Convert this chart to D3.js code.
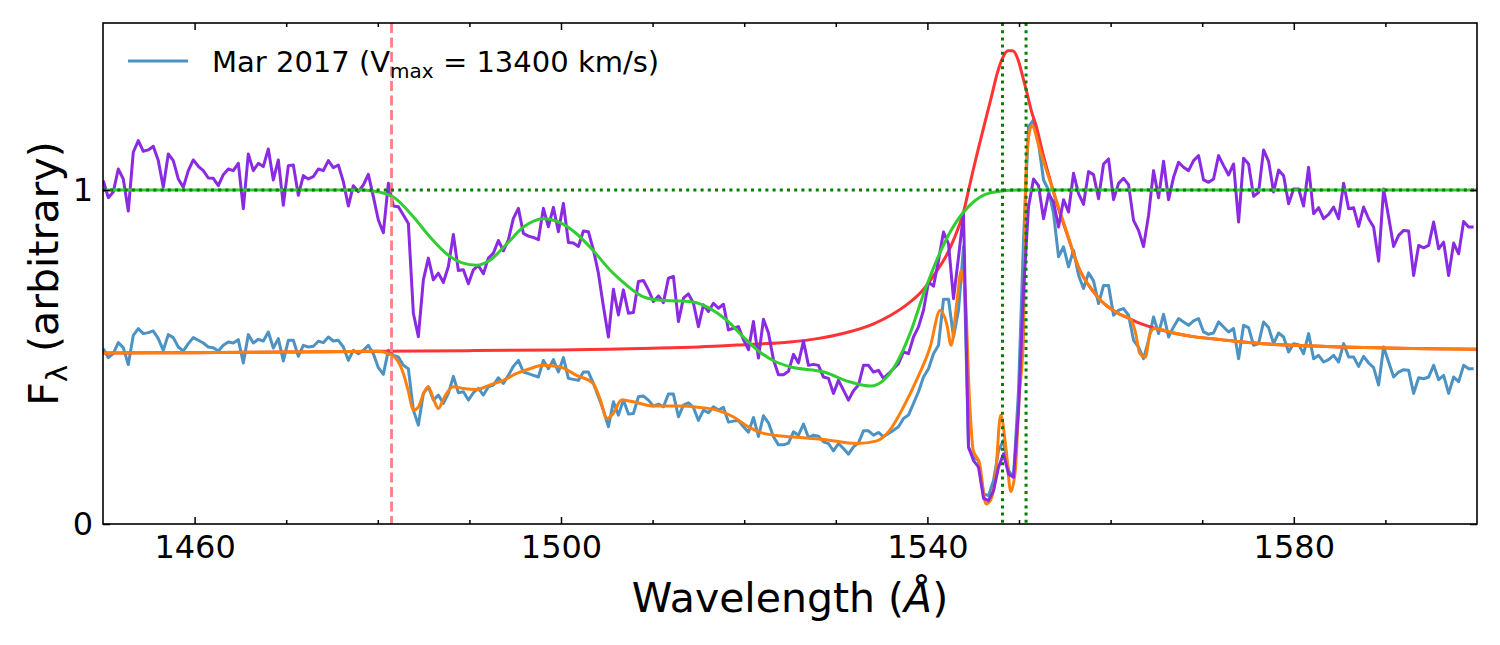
<!DOCTYPE html>
<html lang="en">
<head>
<meta charset="UTF-8">
<title>C IV profile, Mar 2017</title>
<script src="https://d3js.org/d3.v7.min.js"></script>
<style>
  body { margin: 0; background: #fff; }
  svg text { font-family: "DejaVu Sans", sans-serif; fill: #000; }
</style>
</head>
<body>
<svg width="1500" height="645"></svg>
<script>
// spectrum sampling (Angstrom)
const waveStart = 1450.03, waveStep = 0.546;

// observed flux (blue)
const fluxObs = [
  0.525, 0.498, 0.510, 0.543, 0.528, 0.477, 0.565, 0.585, 0.570, 0.573,
  0.578, 0.555, 0.520, 0.567, 0.558, 0.530, 0.518, 0.540, 0.558, 0.550,
  0.542, 0.530, 0.528, 0.518, 0.535, 0.545, 0.542, 0.552, 0.482, 0.567,
  0.542, 0.553, 0.548, 0.575, 0.527, 0.555, 0.488, 0.550, 0.550, 0.502,
  0.535, 0.530, 0.532, 0.547, 0.543, 0.560,
  0.548, 0.550, 0.530, 0.490, 0.520, 0.510, 0.520, 0.535, 0.510, 0.468,
  0.448, 0.520, 0.505, 0.500, 0.475, 0.465, 0.341, 0.296, 0.391, 0.411,
  0.371, 0.386, 0.361, 0.391, 0.442, 0.393, 0.396, 0.371, 0.393, 0.406,
  0.386, 0.411, 0.416, 0.438, 0.421, 0.445, 0.472, 0.490, 0.455, 0.450,
  0.445, 0.440, 0.490, 0.465, 0.492, 0.455,
  0.498, 0.436, 0.433, 0.430, 0.455, 0.455, 0.421, 0.381, 0.341, 0.291,
  0.366, 0.326, 0.371, 0.329, 0.331, 0.381, 0.383, 0.371, 0.353, 0.359,
  0.351, 0.389, 0.389, 0.321, 0.356, 0.363, 0.349, 0.310, 0.341, 0.333,
  0.351, 0.341, 0.349, 0.305, 0.308, 0.310, 0.291, 0.275, 0.319, 0.262,
  0.324, 0.303, 0.261, 0.237, 0.237, 0.242,
  0.276, 0.266, 0.299, 0.259, 0.266, 0.263, 0.246, 0.241, 0.219, 0.241,
  0.226, 0.209, 0.231, 0.243, 0.279, 0.279, 0.266, 0.274, 0.261, 0.271,
  0.281, 0.291, 0.316, 0.326, 0.361, 0.396, 0.440, 0.465, 0.510, 0.535,
  0.673, 0.673, 0.560, 0.640,
  0.830, 0.230, 0.200, 0.190, 0.090, 0.085, 0.130, 0.220, 0.250, 0.160,
  0.140, 0.400, 0.850, 1.190, 1.210, 1.140,
  1.030, 1.000, 0.930, 0.800, 0.830, 0.770, 0.820, 0.745, 0.705, 0.752,
  0.728, 0.660, 0.714, 0.714, 0.625, 0.640, 0.645, 0.625, 0.550, 0.530,
  0.495, 0.550, 0.620, 0.570, 0.628, 0.560, 0.590, 0.615, 0.605, 0.595,
  0.608, 0.615, 0.575, 0.568, 0.572, 0.605, 0.590, 0.575, 0.585, 0.495,
  0.595, 0.588, 0.535,
  0.540, 0.605, 0.588, 0.540, 0.572, 0.560, 0.515, 0.540, 0.537, 0.510,
  0.570, 0.495, 0.505, 0.485, 0.492, 0.505, 0.485, 0.540, 0.500, 0.500,
  0.472, 0.502, 0.482, 0.468, 0.416, 0.530, 0.485, 0.440, 0.455, 0.462,
  0.460, 0.391, 0.438, 0.435, 0.440, 0.475, 0.432, 0.445, 0.391, 0.440,
  0.426, 0.475, 0.465, 0.465
];

// flux divided by continuum + emission model (purple)
const fluxNorm = [
  1.028, 0.977, 0.994, 1.063, 1.033, 0.937, 1.113, 1.148, 1.116, 1.120,
  1.131, 1.088, 1.008, 1.108, 1.088, 1.033, 1.008, 1.058, 1.090, 1.071,
  1.058, 1.036, 1.035, 1.013, 1.046, 1.063, 1.058, 1.080, 0.944, 1.108,
  1.058, 1.080, 1.070, 1.123, 1.030, 1.090, 0.954, 1.073, 1.075, 0.984,
  1.043, 1.033, 1.040, 1.063, 1.058, 1.088,
  1.067, 1.075, 1.025, 0.952, 1.013, 0.995, 1.015, 1.047, 0.980, 0.910,
  0.872, 1.020, 0.952, 0.950, 0.925, 0.900, 0.631, 0.561, 0.731, 0.796,
  0.731, 0.751, 0.723, 0.771, 0.867, 0.759, 0.761, 0.719, 0.761, 0.774,
  0.749, 0.796, 0.811, 0.849, 0.818, 0.851, 0.915, 0.945, 0.870, 0.862,
  0.858, 0.851, 0.945, 0.890, 0.948, 0.875,
  0.960, 0.843, 0.841, 0.831, 0.877, 0.875, 0.821, 0.751, 0.651, 0.560,
  0.703, 0.626, 0.701, 0.631, 0.633, 0.726, 0.729, 0.701, 0.666, 0.683,
  0.663, 0.736, 0.741, 0.606, 0.676, 0.689, 0.661, 0.591, 0.656, 0.636,
  0.661, 0.646, 0.658, 0.581, 0.586, 0.591, 0.552, 0.522, 0.606, 0.497,
  0.613, 0.572, 0.492, 0.447, 0.447, 0.457,
  0.508, 0.482, 0.548, 0.475, 0.478, 0.475, 0.440, 0.436, 0.391, 0.430,
  0.401, 0.371, 0.399, 0.416, 0.475, 0.475, 0.455, 0.460, 0.436, 0.450,
  0.465, 0.480, 0.515, 0.510, 0.560, 0.590, 0.640, 0.724, 0.712, 0.789,
  0.874, 0.839, 0.675, 0.799,
  0.930, 0.230, 0.190, 0.170, 0.077, 0.070, 0.100, 0.170, 0.210, 0.150,
  0.140, 0.340, 0.700, 0.950, 1.033, 1.013,
  0.914, 0.989, 0.964, 0.889, 0.971, 0.934, 1.050, 0.989, 0.957, 1.055,
  1.046, 0.974, 1.078, 1.093, 0.971, 1.020, 1.035, 1.016, 0.909, 0.879,
  0.831, 0.924, 1.058, 0.977, 1.086, 0.971, 1.038, 1.083, 1.068, 1.058,
  1.088, 1.103, 1.030, 1.023, 1.033, 1.103, 1.073, 1.045, 1.078, 0.904,
  1.095, 1.078, 0.981,
  0.993, 1.120, 1.086, 0.994, 1.060, 1.043, 0.959, 1.003, 1.003, 0.952,
  1.068, 0.929, 0.947, 0.914, 0.927, 0.949, 0.914, 1.020, 0.944, 0.947,
  0.891, 0.949, 0.914, 0.889, 0.787, 1.003, 0.919, 0.831, 0.864, 0.879,
  0.877, 0.744, 0.834, 0.827, 0.834, 0.904, 0.824, 0.844, 0.744, 0.841,
  0.809, 0.906, 0.889, 0.889
];

// continuum + emission model (red), [wavelength, flux]
const emissionModel = [
  [1450, 0.512], [1460, 0.513], [1470, 0.515], [1480, 0.517], [1490, 0.519],
  [1500, 0.521], [1505, 0.523], [1510, 0.526], [1515, 0.530], [1520, 0.537],
  [1525, 0.545], [1528, 0.555], [1531, 0.572], [1534, 0.598], [1536, 0.625],
  [1538, 0.662], [1539.5, 0.700], [1541, 0.757], [1542, 0.800], [1543, 0.860],
  [1544, 0.940], [1544.5, 1.000], [1545, 1.060], [1546, 1.172], [1547, 1.280],
  [1547.6, 1.347], [1548.2, 1.395], [1548.8, 1.417], [1549.3, 1.417], [1549.9, 1.390],
  [1550.4, 1.340], [1550.8, 1.298], [1551.4, 1.232], [1551.9, 1.190], [1552.6, 1.110],
  [1553.4, 1.030], [1554.3, 0.945], [1555.2, 0.872], [1556.6, 0.762], [1558, 0.700],
  [1559, 0.667], [1560, 0.645], [1561, 0.628], [1562, 0.616], [1563, 0.603],
  [1564, 0.593], [1565, 0.585], [1567, 0.571], [1569, 0.561], [1572, 0.552],
  [1576, 0.541], [1580, 0.535], [1585, 0.530], [1590, 0.527], [1595, 0.525],
  [1600, 0.523]
];

// absorption model, normalised (green)
const absorptionModel = [
  [1450, 1.000], [1478, 1.000], [1479.5, 0.997], [1481.7, 0.979], [1483.9, 0.919],
  [1485.7, 0.859], [1487.5, 0.809], [1489.3, 0.781], [1490.8, 0.775], [1492.2, 0.789],
  [1494.1, 0.839], [1495.9, 0.889], [1498.1, 0.914], [1499.9, 0.902], [1501.7, 0.869],
  [1503.5, 0.819], [1505.4, 0.759], [1507.2, 0.714], [1509.0, 0.680], [1510.8, 0.670],
  [1512.6, 0.668], [1514.4, 0.665], [1516.3, 0.645], [1518.1, 0.610], [1519.9, 0.560],
  [1521.7, 0.515], [1523.5, 0.485], [1525.0, 0.471], [1528.7, 0.455], [1531.6, 0.425],
  [1533.8, 0.413], [1535.2, 0.430], [1536.6, 0.480], [1538.1, 0.570], [1539.6, 0.690],
  [1541.0, 0.789], [1542.5, 0.875], [1544.3, 0.945], [1546.1, 0.984], [1547.9, 0.996],
  [1550, 1.000], [1600, 1.000]
];

// full model fit (orange)
const fullModel = [
  [1450, 0.512], [1470, 0.515], [1480, 0.517], [1481.3, 0.508], [1482.0, 0.495],
  [1482.8, 0.450], [1483.3, 0.401], [1483.9, 0.341], [1484.4, 0.349], [1485.0, 0.391],
  [1485.5, 0.411], [1486.1, 0.373], [1486.6, 0.346], [1487.3, 0.381], [1488.2, 0.411],
  [1489.3, 0.406], [1490.8, 0.403], [1492.2, 0.416], [1493.7, 0.430], [1495.1, 0.450],
  [1496.6, 0.465], [1498.1, 0.475], [1499.9, 0.470], [1501.7, 0.445], [1503.5, 0.421],
  [1504.3, 0.371], [1505.0, 0.316], [1505.7, 0.331], [1506.6, 0.371], [1507.9, 0.366],
  [1510.1, 0.353], [1512.6, 0.353], [1515.2, 0.349], [1517.0, 0.341], [1518.8, 0.321],
  [1520.5, 0.290], [1522, 0.272], [1523.5, 0.265], [1525, 0.261], [1528.7, 0.253],
  [1532.3, 0.241], [1534.5, 0.249], [1535.9, 0.281], [1537.4, 0.351], [1538.8, 0.430],
  [1540.3, 0.530], [1541.4, 0.640], [1542.1, 0.600], [1542.6, 0.535], [1543.2, 0.660],
  [1543.7, 0.759], [1544.1, 0.700], [1544.6, 0.371], [1545.0, 0.221], [1545.7, 0.181],
  [1546.4, 0.060], [1546.9, 0.072], [1547.4, 0.132], [1548.0, 0.326], [1548.6, 0.221],
  [1549.1, 0.097], [1549.6, 0.161], [1550.0, 0.371], [1550.5, 0.570], [1550.7, 1.000],
  [1551.0, 1.148], [1551.4, 1.193], [1552.3, 1.118], [1553.4, 1.025], [1555.2, 0.875],
  [1556.6, 0.762], [1558, 0.700], [1559, 0.667], [1560, 0.645], [1561, 0.628],
  [1562.2, 0.612], [1562.7, 0.575], [1563.2, 0.510], [1563.8, 0.500], [1564.3, 0.570],
  [1564.8, 0.585], [1567, 0.571], [1569, 0.561], [1572, 0.552], [1576, 0.541],
  [1580, 0.535], [1585, 0.530], [1590, 0.527], [1595, 0.525], [1600, 0.523]
];

const vmaxLine = 1481.5;            // blue edge for Vmax = 13400 km/s
const civLines = [1548.2, 1550.77];  // C IV doublet
const xMajor = [1460, 1500, 1540, 1580];
const xMinor = [1470, 1480, 1490, 1510, 1520, 1530, 1550, 1560, 1570, 1590];
const yMajor = [0, 1];

const margin = { top: 23, right: 23, bottom: 121, left: 103 },
    width = 1500 - margin.left - margin.right,
    height = 645 - margin.top - margin.bottom;

const svg = d3.select("svg")
    .append("g")
    .attr("transform", `translate(${margin.left},${margin.top})`);

const x = d3.scaleLinear().domain([1450, 1600]).range([0, width]);
const y = d3.scaleLinear().domain([0, 1.5]).range([height, 0]);

svg.append("clipPath").attr("id", "plot-clip")
    .append("rect").attr("width", width).attr("height", height);

const plot = svg.append("g").attr("clip-path", "url(#plot-clip)");

const spectrum = (vals) => vals.map((v, i) => [waveStart + i * waveStep, v]);
const lineStraight = d3.line().x(d => x(d[0])).y(d => y(d[1]));
const lineSmooth = d3.line().x(d => x(d[0])).y(d => y(d[1])).curve(d3.curveMonotoneX);

function drawPath(data, gen, color, w) {
    plot.append("path")
        .datum(data)
        .attr("fill", "none")
        .attr("stroke", color)
        .attr("stroke-width", w)
        .attr("stroke-linejoin", "round")
        .attr("d", gen);
}

drawPath(spectrum(fluxObs), lineStraight, "#4c92c3", 3);
drawPath(emissionModel, lineSmooth, "#ff3333", 3);
drawPath(fullModel, lineSmooth, "#ff7f0e", 3);
drawPath(spectrum(fluxNorm), lineStraight, "#8a2be2", 3);
drawPath(absorptionModel, lineSmooth, "#32cd32", 3);

// reference lines
plot.append("line")
    .attr("x1", x(vmaxLine)).attr("x2", x(vmaxLine))
    .attr("y1", 0).attr("y2", height)
    .attr("stroke", "#ff8080").attr("stroke-width", 2.8)
    .attr("stroke-dasharray", "10,4.5");

plot.selectAll(".civ")
    .data(civLines)
    .enter().append("line")
    .attr("class", "civ")
    .attr("x1", d => x(d)).attr("x2", d => x(d))
    .attr("y1", 0).attr("y2", height)
    .attr("stroke", "#008000").attr("stroke-width", 3)
    .attr("stroke-dasharray", "3,4.2");

plot.append("line")
    .attr("x1", 0).attr("x2", width)
    .attr("y1", y(1)).attr("y2", y(1))
    .attr("stroke", "#008000").attr("stroke-width", 3)
    .attr("stroke-dasharray", "3,4.2");

// axes, ticks pointing inwards on all four sides
function styleAxis(g) {
    g.select(".domain").remove();
    g.selectAll(".tick line").attr("stroke", "#000").attr("stroke-width", 1.5);
    g.selectAll("text").style("font-size", "32px").attr("fill", "#000");
}

svg.append("g").attr("transform", `translate(0,${height})`)
    .call(d3.axisBottom(x).tickValues(xMajor).tickFormat(d3.format("d")).tickSize(-7).tickPadding(11))
    .call(styleAxis);
svg.append("g").attr("transform", `translate(0,${height})`)
    .call(d3.axisBottom(x).tickValues(xMinor).tickFormat("").tickSize(-4))
    .call(styleAxis);
svg.append("g")
    .call(d3.axisTop(x).tickValues(xMajor).tickFormat("").tickSize(-7))
    .call(styleAxis);
svg.append("g")
    .call(d3.axisTop(x).tickValues(xMinor).tickFormat("").tickSize(-4))
    .call(styleAxis);
svg.append("g")
    .call(d3.axisLeft(y).tickValues(yMajor).tickFormat(d3.format("d")).tickSize(-7).tickPadding(10))
    .call(styleAxis);
svg.append("g").attr("transform", `translate(${width},0)`)
    .call(d3.axisRight(y).tickValues(yMajor).tickFormat("").tickSize(-7))
    .call(styleAxis);

svg.append("rect")
    .attr("width", width).attr("height", height)
    .attr("fill", "none").attr("stroke", "#000").attr("stroke-width", 1.6);

// axis labels
const xLabel = svg.append("text")
    .attr("x", width / 2)
    .attr("y", height + 88)
    .attr("text-anchor", "middle")
    .style("font-size", "41px");
xLabel.append("tspan").text("Wavelength (");
xLabel.append("tspan").style("font-style", "italic").text("Å");
xLabel.append("tspan").text(")");

const yLabel = svg.append("text")
    .attr("transform", `translate(${58 - margin.left},${height / 2}) rotate(-90)`)
    .attr("text-anchor", "middle")
    .style("font-size", "41px");
yLabel.append("tspan").text("F");
yLabel.append("tspan").attr("dy", 9).style("font-size", "29px").text("λ");
yLabel.append("tspan").attr("dy", -9).text(" (arbitrary)");

// legend
const legend = svg.append("g").attr("transform", `translate(${128 - margin.left},${61 - margin.top})`);
legend.append("line")
    .attr("x1", 0).attr("x2", 60)
    .attr("stroke", "#4c92c3").attr("stroke-width", 3);
const legText = legend.append("text")
    .attr("x", 84).attr("y", 11)
    .style("font-size", "29px");
legText.append("tspan").text("Mar 2017 (V");
legText.append("tspan").attr("dy", 6).style("font-size", "20px").text("max");
legText.append("tspan").attr("dy", -6).text(" = 13400 km/s)");
</script>
</body>
</html>
